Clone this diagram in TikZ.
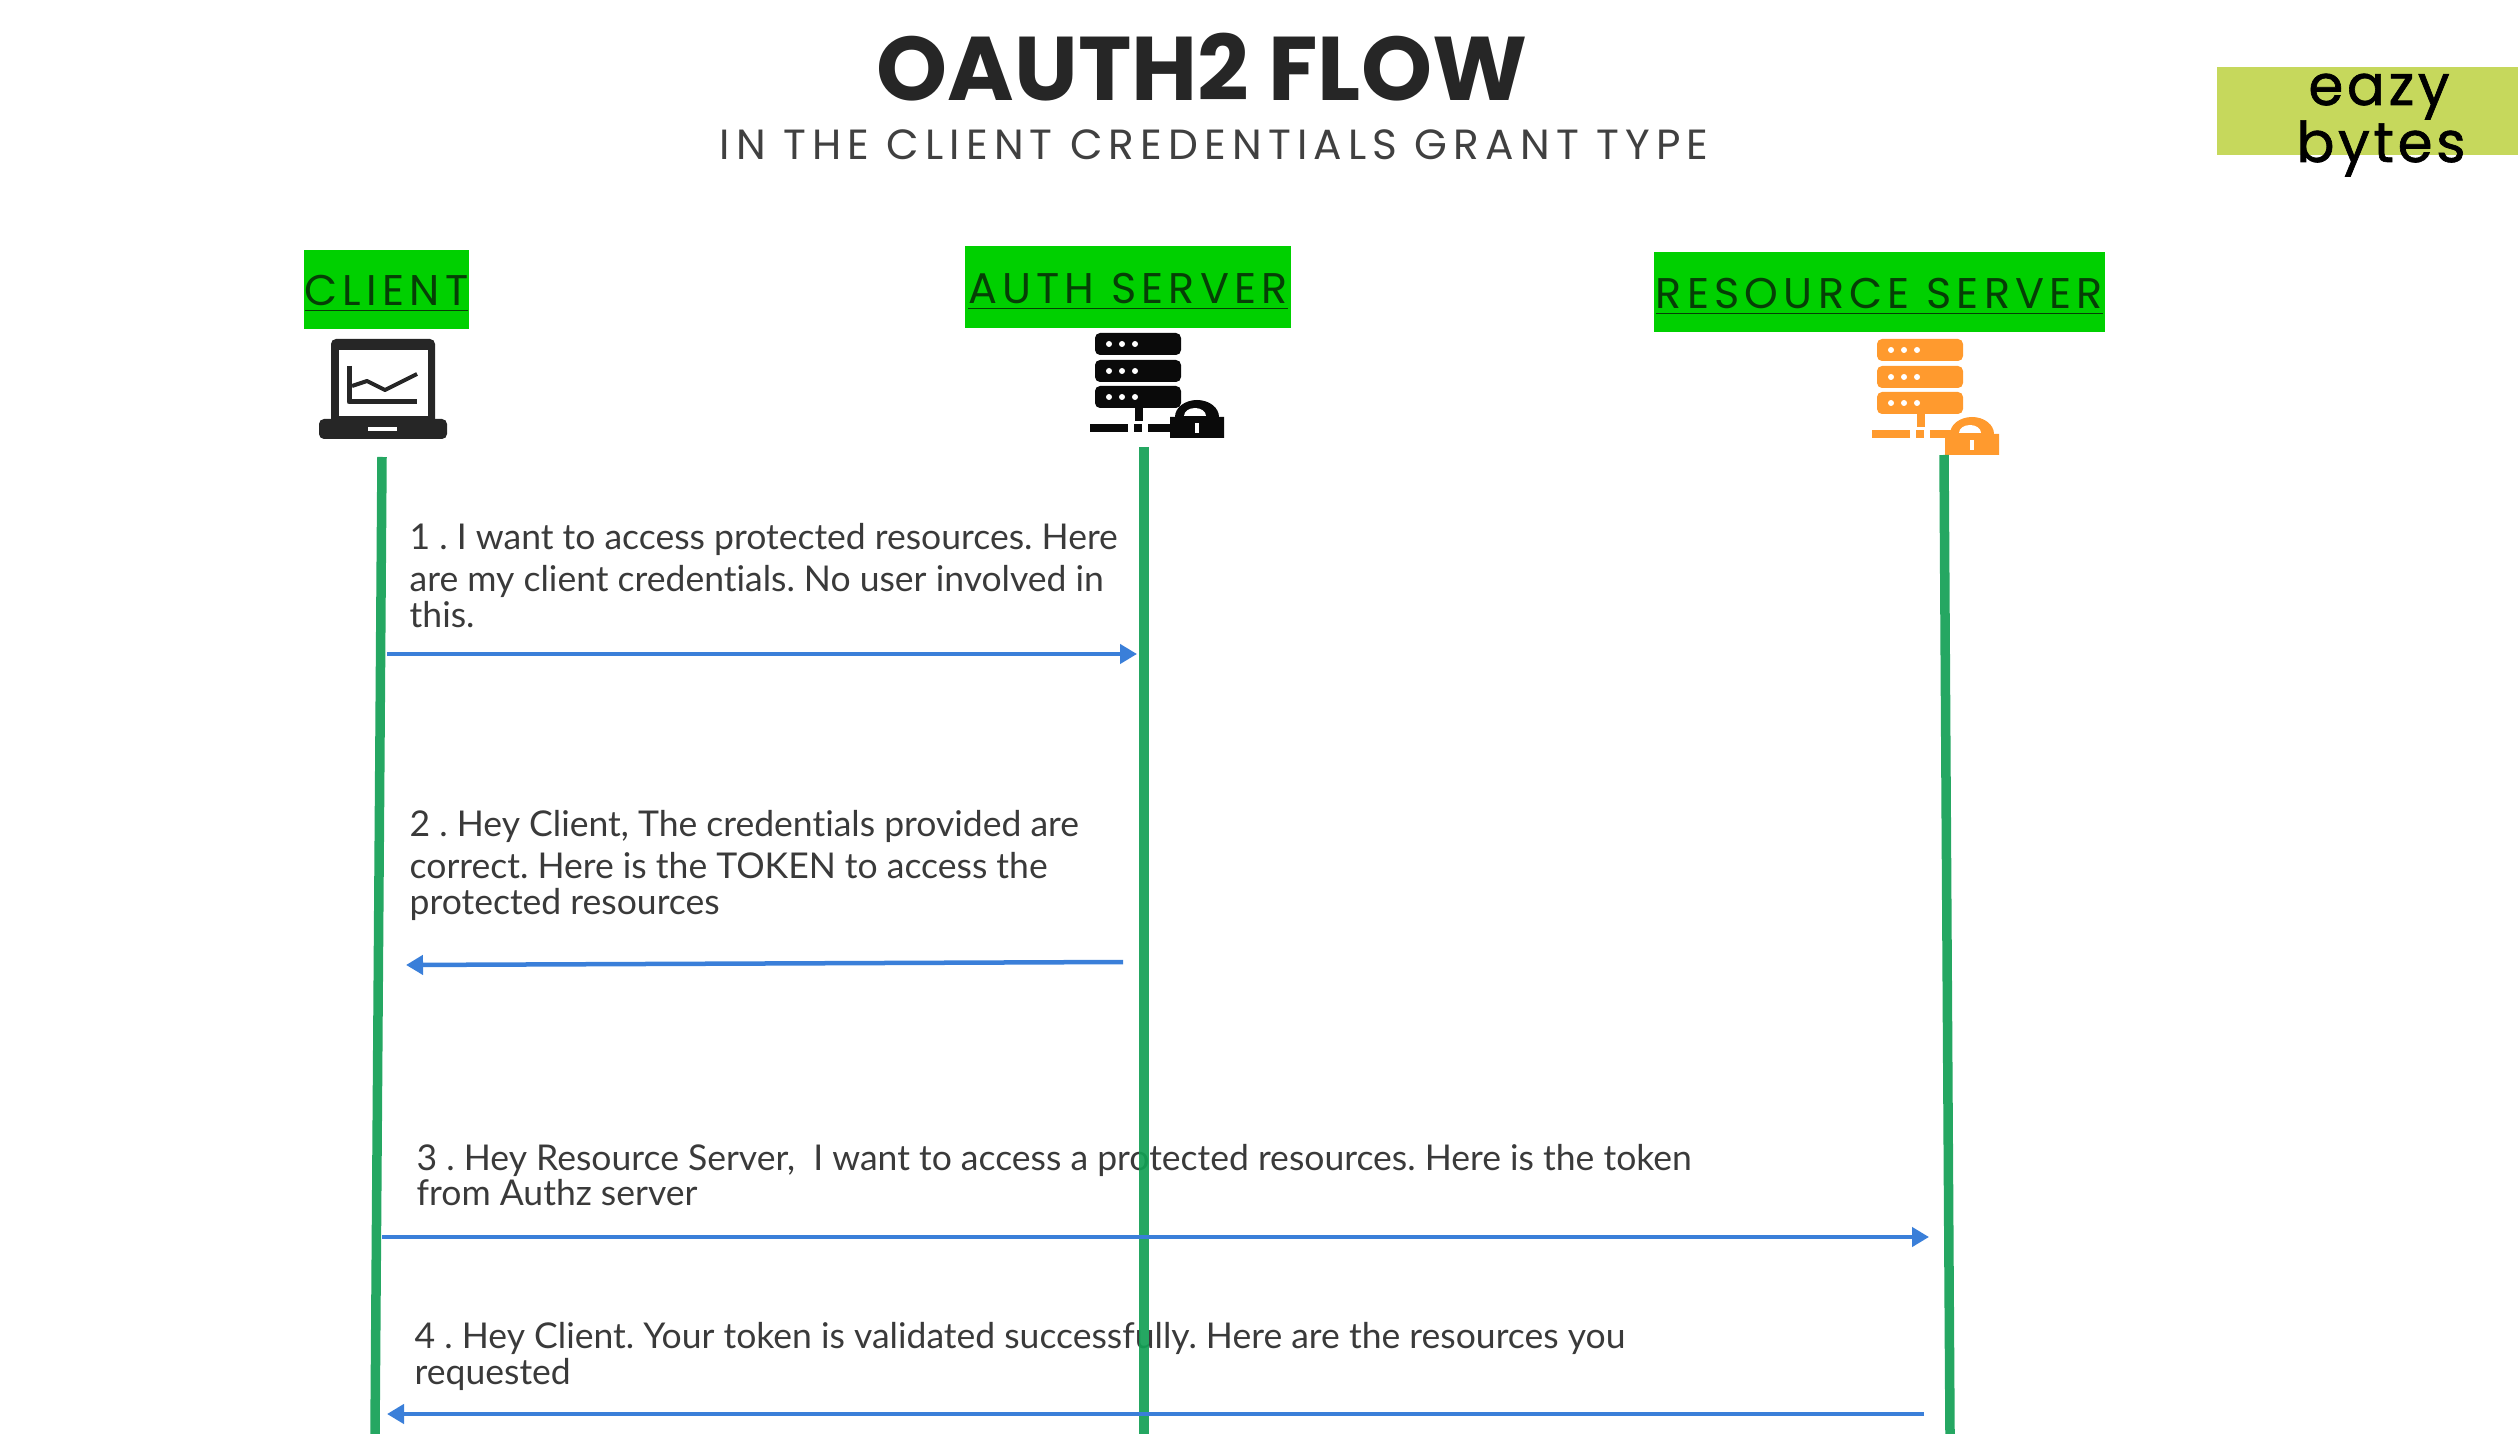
\documentclass[tikz,border=0pt]{standalone}
\usepackage{fontspec}
\setmainfont[Ligatures=NoCommon]{Lato}
\newfontfamily\titlefont{Poppins}
\newfontfamily\logofont[FakeBold=1.2,LetterSpace=6.5]{Poppins}
\newfontfamily\headfont[LetterSpace=12.2]{Poppins}
\newfontfamily\subfont[LetterSpace=14.6]{Poppins}
\usetikzlibrary{arrows.meta}
\definecolor{headgreen}{HTML}{00D000}
\definecolor{headtext}{HTML}{063F06}
\definecolor{linegreen}{HTML}{12A055}
\definecolor{arrowblue}{HTML}{3A7FD9}
\definecolor{iconorange}{HTML}{FF9A2E}
\definecolor{iconblack}{HTML}{0A0A0A}
\definecolor{logogreen}{HTML}{C6D85C}
\definecolor{msgtext}{HTML}{3A3A3A}
\tikzset{
  headbox/.style={fill=headgreen, text=headtext, inner sep=0pt, text height=0.4cm, text depth=0.08cm, font=\headfont\fontsize{12.2}{14}\selectfont},
  msgtext/.style={text=msgtext, inner sep=0pt, anchor=north west, align=left, font=\frenchspacing\fontsize{10.1}{10.1}\selectfont},
  logotext/.style={text=black, inner sep=0pt, anchor=base, font=\logofont\fontsize{16}{18}\selectfont},
  lifeline/.style={draw=linegreen, draw opacity=0.92, line width=0.095cm},
  message/.style={draw=arrowblue, line width=0.045cm, -{Triangle[length=0.17cm,width=0.19cm]}},
  serverrack/.pic={
    \foreach \y in {0,27,53} {
      \path[pic actions, rounded corners=0.05cm] (0,\y) rectangle (86,\y+22);
      \foreach \x in {14,27,40} \fill[white] (\x,\y+11) circle (0.03cm);
    }
    \path[pic actions] (40,22+53) rectangle (48,88);
    \path[pic actions] (-5,91) rectangle (33,99);
    \path[pic actions] (39,91) rectangle (47,99);
    \path[pic actions] (53,91) rectangle (80,99);
  },
  padlock/.pic={
    \path[pic actions] (0,38) -- (0,17) -- (5,17) arc[start angle=180, end angle=360, x radius=22, y radius=17] -- (54,17) -- (54,38) -- cycle;
    \fill[white] (14,16) arc[start angle=180, end angle=360, x radius=11, y radius=8] -- cycle;
    \fill[white] (25,23) rectangle (29,33);
  }
}
\begin{document}
\begin{tikzpicture}[x=0.01cm,y=-0.01cm]
\useasboundingbox (0,0) rectangle (2518,1434);

\node[text=black!85, inner sep=0pt, font=\titlefont\bfseries\fontsize{25.7}{30}\selectfont] (title) at (1202,67) {OAUTH2 FLOW};
\node[text=black!75, inner sep=0pt, font=\subfont\fontsize{12}{14}\selectfont] (subtitle) at (1214,145) {IN THE CLIENT CREDENTIALS GRANT TYPE};

\node[fill=logogreen, minimum width=3.01cm, minimum height=0.88cm, inner sep=0pt] (logo) at (2367.5,111) {};
\node[logotext] (eazy) at (2379,105) {eazy};
\node[logotext] (bytes) at (2381,162) {bytes};

\node[headbox, minimum width=1.65cm, minimum height=0.79cm] (client) at (386.5,289.5) {\underline{CLIENT}};
\node[headbox, minimum width=3.26cm, minimum height=0.82cm] (auth) at (1128,287) {\underline{AUTH SERVER}};
\node[headbox, minimum width=4.51cm, minimum height=0.80cm] (resource) at (1879.5,292) {\underline{RESOURCE SERVER}};

\path[fill=black!85, rounded corners=0.05cm] (331,339) rectangle (435,430);
\fill[white] (339,350) rectangle (428,416);
\path[fill=black!85, rounded corners=0.05cm] (319,419) rectangle (447,439);
\fill[white] (368,427) rectangle (397,431);
\path[draw=black!85, line width=0.05cm, line join=round] (349,366) -- (349,402) -- (417,402);
\path[draw=black!85, line width=0.04cm, line join=round] (352,386) -- (367,381) -- (385,390) -- (417,374);

\pic[fill=iconblack] at (1095,333) {serverrack};
\pic[fill=iconblack] at (1170,400) {padlock};
\pic[fill=iconorange] at (1877,339) {serverrack};
\pic[fill=iconorange] at (1945,417) {padlock};

\node[msgtext] (m1) at (409,522.5) {1 . I want to access protected resources. Here\\[2pt]are my client credentials. No user involved in\\this.};
\node[msgtext] (m2) at (409,809.5) {2 . Hey Client, The credentials provided are\\[2pt]correct. Here is the TOKEN to access the\\protected resources};
\node[msgtext] (m3) at (416,1143.5) {3 . Hey Resource Server,\ \ I want to access a protected resources. Here is the token\\from Authz server};
\node[msgtext] (m4) at (414,1322) {4 . Hey Client. Your token is validated successfully. Here are the resources you\\requested};

\coordinate (c1) at (387,654);
\coordinate (a1) at (1137,654);
\coordinate (a2) at (1123,962);
\coordinate (c2) at (406,965);
\coordinate (c3) at (382,1237);
\coordinate (r3) at (1929,1237);
\coordinate (r4) at (1924,1414);
\coordinate (c4) at (387,1414);

\coordinate (ctop) at (382,457);
\coordinate (cend) at (375,1434);
\coordinate (atop) at (1144,447);
\coordinate (aend) at (1144,1434);
\coordinate (rtop) at (1944,455);
\coordinate (rend) at (1950,1434);

\path[lifeline] (ctop) -- (cend);
\path[lifeline] (atop) -- (aend);
\path[lifeline] (rtop) -- (rend);

\path[message] (c1) -- (a1);
\path[message] (a2) -- (c2);
\path[message] (c3) -- (r3);
\path[message] (r4) -- (c4);
\end{tikzpicture}
\end{document}
